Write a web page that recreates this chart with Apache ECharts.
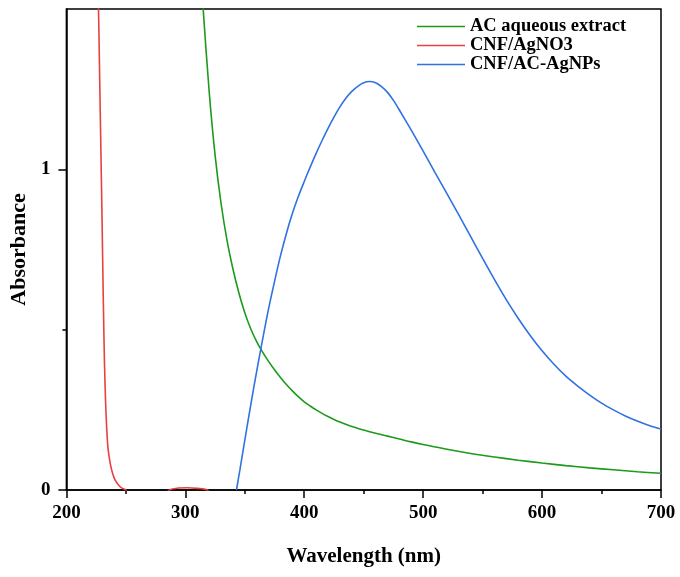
<!DOCTYPE html>
<html>
<head>
<meta charset="utf-8">
<script src="https://cdn.jsdelivr.net/npm/echarts@6/dist/echarts.min.js"></script>
<style>html,body{margin:0;padding:0;background:#fff;}#c{width:680px;height:577px;}</style>
</head>
<body>
<div id="c"></div>
<script>
// Series names
const seriesNames = ['AC aqueous extract', 'CNF/AgNO3', 'CNF/AC-AgNPs'];
// [wavelength (nm), absorbance]
const greenData = [
  [308, 1.9], [311, 1.72], [315, 1.5], [320, 1.245], [325, 1.045], [330, 0.895], [335, 0.78],
  [340, 0.69], [345, 0.615], [350, 0.553], [355, 0.503], [360, 0.463], [365, 0.43],
  [370, 0.401], [375, 0.375], [380, 0.351], [385, 0.329], [390, 0.309], [395, 0.291],
  [400, 0.275], [405, 0.262], [410, 0.25], [415, 0.239], [420, 0.229], [425, 0.22],
  [430, 0.212], [440, 0.198], [450, 0.187], [460, 0.177], [470, 0.168], [480, 0.159],
  [490, 0.15], [500, 0.142], [520, 0.127], [540, 0.114], [560, 0.103], [580, 0.093],
  [600, 0.084], [620, 0.076], [640, 0.069], [660, 0.063], [680, 0.057], [700, 0.052]
];
const redData = [
  [224, 2.0], [227, 1.5], [228, 1.28], [229, 1.06], [230, 0.84], [231, 0.6], [232, 0.4],
  [233, 0.27], [234, 0.185], [235, 0.13], [237, 0.08], [239, 0.05], [241, 0.031],
  [244, 0.015], [247, 0.005], [250, 0.0], [253, -0.02], [280, -0.02], [287, 0.001],
  [294, 0.006], [302, 0.007], [310, 0.005], [318, 0.001], [325, -0.02], [340, -0.02]
];
const blueData = [
  [343, 0.0], [346, 0.065], [350, 0.155], [355, 0.265], [360, 0.37], [365, 0.47],
  [370, 0.565], [375, 0.65], [380, 0.73], [385, 0.8], [390, 0.862], [395, 0.915],
  [400, 0.962], [405, 1.007], [410, 1.05], [415, 1.09], [420, 1.128], [425, 1.163],
  [430, 1.195], [435, 1.222], [440, 1.243], [445, 1.259], [450, 1.27], [455, 1.274],
  [460, 1.27], [465, 1.258], [470, 1.24], [475, 1.215], [480, 1.185], [490, 1.122],
  [500, 1.057], [510, 0.99], [520, 0.924], [530, 0.858], [540, 0.79], [550, 0.722],
  [560, 0.656], [570, 0.593], [580, 0.535], [590, 0.482], [600, 0.434], [610, 0.392],
  [620, 0.355], [630, 0.324], [640, 0.296], [650, 0.271], [660, 0.25], [670, 0.231],
  [680, 0.215], [690, 0.201], [700, 0.19]
];
// Axis ticks
const xMin = 200, xMax = 700, xStep = 100;
const yMin = 0, yMax = 1.5;
const yMajorTicks = [0, 1];
const yMinorTicks = [0.5];
const colors = ['#1c9a1c', '#e8403f', '#2f72e0'];

const font = 'Liberation Serif';
const chart = echarts.init(document.getElementById('c'), null, {renderer: 'canvas'});
const axisLineStyle = {color: '#000', width: 1.5};
chart.setOption({
  animation: false,
  backgroundColor: '#fff',
  grid: {left: 64, right: 19, top: 9, bottom: 87, show: true, borderColor: '#000', borderWidth: 1.5, backgroundColor: 'transparent'},
  legend: {
    data: seriesNames, orient: 'vertical', left: 417, top: 17, padding: 0, itemGap: 0,
    icon: 'rect', itemWidth: 48, itemHeight: 1.6,
    textStyle: {fontFamily: font, fontWeight: 'bold', fontSize: 18.5, lineHeight: 17.6, color: '#000'}
  },
  xAxis: {
    type: 'value', min: xMin, max: xMax, interval: xStep,
    name: 'Wavelength (nm)', nameLocation: 'middle', nameGap: 56,
    nameTextStyle: {fontFamily: font, fontWeight: 'bold', fontSize: 21, color: '#000'},
    axisLine: {show: true, lineStyle: axisLineStyle},
    axisTick: {show: true, length: 8, lineStyle: axisLineStyle},
    minorTick: {show: true, splitNumber: 2, length: 4, lineStyle: axisLineStyle},
    axisLabel: {margin: 14, fontFamily: font, fontWeight: 'bold', fontSize: 19, color: '#000'},
    splitLine: {show: false}, minorSplitLine: {show: false}
  },
  yAxis: [{
    type: 'value', min: yMin, max: yMax, interval: 0.5,
    name: 'Absorbance', nameLocation: 'middle', nameGap: 36,
    nameTextStyle: {fontFamily: font, fontWeight: 'bold', fontSize: 22, color: '#000'},
    axisLine: {show: true, lineStyle: axisLineStyle},
    axisTick: {show: true, length: 8, lineStyle: axisLineStyle, customValues: yMajorTicks},
    axisLabel: {margin: 16, fontFamily: font, fontWeight: 'bold', fontSize: 19, color: '#000', customValues: yMajorTicks},
    splitLine: {show: false}
  }, {
    type: 'value', min: yMin, max: yMax, position: 'left', offset: 0,
    axisLine: {show: false},
    axisTick: {show: true, length: 4, lineStyle: axisLineStyle, customValues: yMinorTicks},
    axisLabel: {show: false},
    splitLine: {show: false}
  }],
  series: [
    {name: seriesNames[0], type: 'line', data: greenData, symbol: 'none', smooth: 0.3, color: colors[0], lineStyle: {width: 1.6, color: colors[0]}},
    {name: seriesNames[1], type: 'line', data: redData, symbol: 'none', smooth: 0.3, color: colors[1], lineStyle: {width: 1.6, color: colors[1]}},
    {name: seriesNames[2], type: 'line', data: blueData, symbol: 'none', smooth: 0.3, color: colors[2], lineStyle: {width: 1.6, color: colors[2]}}
  ]
});
</script>
</body>
</html>
